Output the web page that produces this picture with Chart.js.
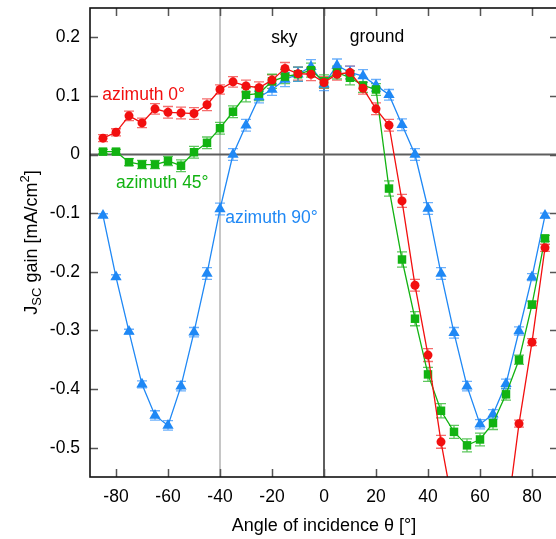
<!DOCTYPE html>
<html>
<head>
<meta charset="utf-8">
<script src="https://cdn.jsdelivr.net/npm/chart.js@4.4.1/dist/chart.umd.min.js"></script>
<style>
  html, body { margin: 0; padding: 0; background: #fff; overflow: hidden; }
  #wrap { width: 558px; height: 539px; }
</style>
</head>
<body>
<div id="wrap"><canvas id="chart" width="558" height="539"></canvas></div>
<script>
// angle of incidence (deg)
const angles = [-85, -80, -75, -70, -65, -60, -55, -50, -45, -40, -35, -30, -25, -20, -15, -10, -5, 0,
  5, 10, 15, 20, 25, 30, 35, 40, 45, 50, 55, 60, 65, 70, 75, 80, 85];

// Jsc gain [mA/cm2]
const az0 = [0.028, 0.038, 0.066, 0.054, 0.078, 0.072, 0.071, 0.070, 0.085, 0.111, 0.124, 0.117, 0.114, 0.127, 0.147, 0.138, 0.137, 0.123,
  0.137, 0.140, 0.113, 0.078, 0.050, -0.079, -0.223, -0.342, -0.490, -0.61, -0.68, -0.70, -0.68, -0.63, -0.459, -0.320, -0.159];
const az45 = [0.005, 0.005, -0.013, -0.017, -0.017, -0.011, -0.019, 0.004, 0.020, 0.045, 0.073, 0.102, 0.104, 0.125, 0.133, 0.137, 0.144, 0.125,
  0.140, 0.131, 0.118, 0.111, -0.058, -0.179, -0.280, -0.375, -0.437, -0.473, -0.496, -0.486, -0.458, -0.409, -0.350, -0.256, -0.143];
const az90 = [-0.104, -0.209, -0.302, -0.392, -0.445, -0.462, -0.395, -0.303, -0.203, -0.093, 0.000, 0.050, 0.098, 0.111, 0.128, 0.137, 0.150, 0.120,
  0.152, 0.140, 0.134, 0.118, 0.102, 0.051, 0.000, -0.092, -0.203, -0.304, -0.395, -0.460, -0.443, -0.391, -0.301, -0.209, -0.104];

// error bars (+/-)
const err0 = [0.006, 0.006, 0.008, 0.008, 0.009, 0.010, 0.010, 0.010, 0.010, 0.008, 0.009, 0.010, 0.010, 0.009, 0.010, 0.011, 0.011, 0.010,
  0.010, 0.011, 0.010, 0.010, 0.010, 0.011, 0.010, 0.011, 0.011, 0.011, 0.011, 0.011, 0.011, 0.011, 0.006, 0.006, 0.006];
const err45 = [0.004, 0.004, 0.006, 0.007, 0.007, 0.008, 0.010, 0.010, 0.010, 0.010, 0.010, 0.012, 0.012, 0.012, 0.012, 0.012, 0.012, 0.011,
  0.011, 0.012, 0.012, 0.010, 0.013, 0.013, 0.012, 0.012, 0.012, 0.011, 0.011, 0.011, 0.011, 0.010, 0.008, 0.006, 0.005];
const err90 = [0.003, 0.004, 0.004, 0.006, 0.008, 0.008, 0.008, 0.008, 0.010, 0.010, 0.010, 0.010, 0.010, 0.010, 0.012, 0.012, 0.012, 0.011,
  0.011, 0.011, 0.011, 0.010, 0.009, 0.010, 0.010, 0.010, 0.010, 0.009, 0.008, 0.008, 0.008, 0.008, 0.007, 0.006, 0.004];

const xTicks = [-80, -60, -40, -20, 0, 20, 40, 60, 80];
const yTicks = [0.2, 0.1, 0, -0.1, -0.2, -0.3, -0.4, -0.5];

const seriesLabels = ["azimuth 0°", "azimuth 45°", "azimuth 90°"];
const colors = ["#f20f0f", "#12b312", "#1f88f5"];
const errColors = ["rgba(242,60,60,0.75)", "rgba(40,180,40,0.75)", "rgba(60,150,250,0.75)"];
const errs = [err0, err45, err90];

const FONT = "'Liberation Sans', Arial, sans-serif";

function pts(vals) {
  return angles.map((a, i) => ({ x: a, y: vals[i] }));
}

const overlay = {
  id: "overlay",
  beforeDatasetsDraw(chart) {
    const { ctx, chartArea: a, scales: { x, y } } = chart;
    ctx.save();
    ctx.beginPath();
    ctx.rect(a.left, a.top, a.right - a.left, a.bottom - a.top);
    ctx.clip();

    // reference lines
    ctx.lineWidth = 2;
    ctx.strokeStyle = "#c6c6c6";
    ctx.beginPath();
    ctx.moveTo(x.getPixelForValue(-40), a.top);
    ctx.lineTo(x.getPixelForValue(-40), a.bottom);
    ctx.stroke();

    ctx.strokeStyle = "#5e5e5e";
    ctx.beginPath();
    ctx.moveTo(x.getPixelForValue(0), a.top);
    ctx.lineTo(x.getPixelForValue(0), a.bottom);
    ctx.moveTo(a.left, y.getPixelForValue(0));
    ctx.lineTo(a.right, y.getPixelForValue(0));
    ctx.stroke();

    // error bars
    ctx.lineWidth = 1.3;
    chart.data.datasets.forEach((ds, i) => {
      ctx.strokeStyle = errColors[i];
      ds.data.forEach((p, j) => {
        const px = x.getPixelForValue(p.x);
        const y1 = y.getPixelForValue(p.y + errs[i][j]);
        const y2 = y.getPixelForValue(p.y - errs[i][j]);
        ctx.beginPath();
        ctx.moveTo(px, y1); ctx.lineTo(px, y2);
        ctx.moveTo(px - 5, y1); ctx.lineTo(px + 5, y1);
        ctx.moveTo(px - 5, y2); ctx.lineTo(px + 5, y2);
        ctx.stroke();
      });
    });
    ctx.restore();
  },
  afterDraw(chart) {
    const { ctx, chartArea: a, scales: { x, y } } = chart;
    ctx.save();

    // inward ticks on all sides
    ctx.strokeStyle = "#555";
    ctx.lineWidth = 1.5;
    ctx.beginPath();
    xTicks.forEach(v => {
      const px = Math.round(x.getPixelForValue(v)) + 0.5;
      ctx.moveTo(px, a.bottom); ctx.lineTo(px, a.bottom - 8);
      ctx.moveTo(px, a.top); ctx.lineTo(px, a.top + 8);
    });
    yTicks.forEach(v => {
      const py = Math.round(y.getPixelForValue(v)) + 0.5;
      ctx.moveTo(a.left, py); ctx.lineTo(a.left + 8, py);
      ctx.moveTo(a.right, py); ctx.lineTo(a.right - 8, py);
    });
    ctx.stroke();

    // frame
    ctx.strokeStyle = "#111";
    ctx.lineWidth = 1.6;
    ctx.strokeRect(a.left, a.top, a.right - a.left, a.bottom - a.top);

    // in-plot labels
    ctx.font = "17.5px " + FONT;
    ctx.textBaseline = "middle";
    ctx.textAlign = "center";
    ctx.fillStyle = "#000";
    ctx.fillText("sky", x.getPixelForValue(-15.2), y.getPixelForValue(0.199));
    ctx.fillText("ground", x.getPixelForValue(20.4), y.getPixelForValue(0.201));
    ctx.textAlign = "left";
    ctx.fillStyle = colors[0];
    ctx.fillText(seriesLabels[0], x.getPixelForValue(-85.3), y.getPixelForValue(0.101));
    ctx.fillStyle = colors[1];
    ctx.fillText(seriesLabels[1], x.getPixelForValue(-80.0), y.getPixelForValue(-0.048));
    ctx.fillStyle = colors[2];
    ctx.fillText(seriesLabels[2], x.getPixelForValue(-38.0), y.getPixelForValue(-0.109));

    // y axis title with sub/superscript
    const parts = [
      { t: "J", s: 18, dy: 0 },
      { t: "SC", s: 13, dy: 4 },
      { t: " gain [mA/cm", s: 18, dy: 0 },
      { t: "2", s: 13, dy: -8 },
      { t: "]", s: 18, dy: 0 }
    ];
    let total = 0;
    parts.forEach(p => { ctx.font = p.s + "px " + FONT; p.w = ctx.measureText(p.t).width; total += p.w; });
    ctx.translate(37, (a.top + a.bottom) / 2);
    ctx.rotate(-Math.PI / 2);
    ctx.fillStyle = "#000";
    ctx.textAlign = "left";
    ctx.textBaseline = "alphabetic";
    let cx = -total / 2;
    parts.forEach(p => {
      ctx.font = p.s + "px " + FONT;
      ctx.fillText(p.t, cx, p.dy);
      cx += p.w;
    });
    ctx.restore();
  }
};

new Chart(document.getElementById("chart"), {
  type: "line",
  data: {
    datasets: [
      { label: seriesLabels[0], data: pts(az0), borderColor: colors[0], backgroundColor: colors[0],
        borderWidth: 1.3, pointStyle: "circle", pointRadius: 4.5, pointBorderWidth: 0 },
      { label: seriesLabels[1], data: pts(az45), borderColor: colors[1], backgroundColor: colors[1],
        borderWidth: 1.3, pointStyle: "rect", pointRadius: 6, pointBorderWidth: 0 },
      { label: seriesLabels[2], data: pts(az90), borderColor: colors[2], backgroundColor: colors[2],
        borderWidth: 1.3, pointStyle: "triangle", pointRadius: 6.5, pointBorderWidth: 0 }
    ]
  },
  options: {
    responsive: false,
    animation: false,
    layout: { autoPadding: false, padding: { top: 8, left: 0, right: 0, bottom: 0 } },
    plugins: { legend: { display: false }, tooltip: { enabled: false } },
    scales: {
      x: {
        type: "linear", min: -90, max: 90,
        afterBuildTicks: s => { s.ticks = xTicks.map(v => ({ value: v })); },
        afterFit: s => { s.height = 62; s.paddingLeft = 0; s.paddingRight = 0; },
        grid: { display: false, drawTicks: false },
        border: { display: false },
        ticks: { padding: 10, color: "#000", font: { size: 17.5, family: FONT }, maxRotation: 0 },
        title: { display: true, text: "Angle of incidence θ [°]", color: "#000",
          font: { size: 18, family: FONT }, padding: { top: 0, bottom: 2 } }
      },
      y: {
        type: "linear", min: -0.55, max: 0.25,
        afterBuildTicks: s => { s.ticks = yTicks.map(v => ({ value: v })); },
        afterFit: s => { s.width = 90; s.paddingTop = 0; s.paddingBottom = 0; },
        grid: { display: false, drawTicks: false },
        border: { display: false },
        ticks: { padding: 10, color: "#000", font: { size: 17.5, family: FONT } }
      }
    }
  },
  plugins: [overlay]
});
</script>
</body>
</html>
